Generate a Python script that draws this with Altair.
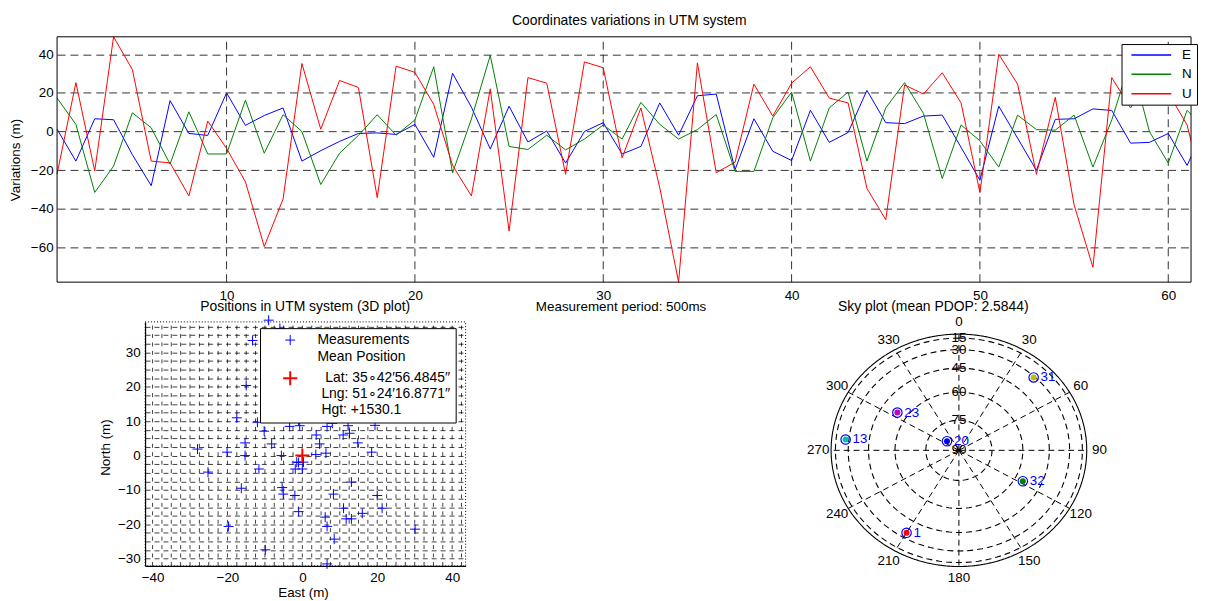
import altair as alt
import pandas as pd

FONT = "Liberation Sans"

# ---------------- top chart: coordinate variations ----------------
IDX = list(range(1, 63))
E = [1.2, -15.3, 6.6, 6.1, -12, -28, 16, -1, -2, 20,
     3.2, 8.3, 12.2, -15.3, -9.9, -5.1, -1, -0.7, -1.5, 3.7,
     -13.3, 30.1, 12.6, -9, 13.1, -5.4, 0.3, -16.3, 0, 4.6,
     -11.6, -7.7, 14.8, -1.9, 18.5, 19.4, -19.7, 6.6, -10.2, -15,
     11, -5.6, -0.5, 21.3, 4.6, 4.1, 8, 8.5, -8.2, -25.2,
     13.1, -3.4, -20.1, 6.3, 6.6, 11.7, 10.9, -6, -5.6, -1,
     -17.5, 3.6]
N = [17.3, 3.7, -31.5, -17.9, 9.7, 1.9, -16.8, 10.2, -11.6, -11.6,
     16.2, -11.2, 8.7, 0, -27.4, -11.2, -2, 8.7, -1.9, 6,
     33.5, -21.4, 6.5, 39.4, -7.7, -9.3, -1.9, -9.5, -3.9, 3.4,
     -3.9, 15.1, 3.7, -3.9, 1.0, 8.8, -20.6, -20.6, 7.1, 20.4,
     -15.3, 12.2, 20.4, -15.3, 12.2, 25.3, 9.4, -24.3, 3.4, -4.8,
     -18.4, 8.5, 1.0, 0.7, 8.5, -18.4, 6.0, 37, 0, -16.3,
     11, 0.3]
U = [-22, 25.3, -20.4, 49, 32, -15.3, -16.2, -33.3, 5.4, -8.7,
     -26, -59.5, -34.9, 35.2, 1.2, 26.4, 22.8, -34.2, 33.8, 30.6,
     14, -17.5, -33.3, 22.1, -51.5, 27.9, 25, -22.1, 36, 33,
     -13.6, 12.2, -29, -77.9, 35.5, -21.3, -15.8, 24.5, 8, 25,
     33.5, 17.3, 14.8, -29.4, -45.6, 24.1, 19.4, 30.4, 14.8, -31.6,
     40, 24.5, -22.1, 17.7, -37.9, -70.2, 27.9, 12.2, 28, 20,
     3.4, -35.7]
SERIES = ["E", "N", "U"]
SERIES_COLORS = ["#0000ff", "#008000", "#ff0000"]
TOP_XTICKS = [10, 20, 30, 40, 50, 60]
TOP_YTICKS = [-60, -40, -20, 0, 20, 40]
TOP_XDOM = [1, 61.21]
TOP_YDOM = [min(E + N + U), max(E + N + U)]

# ---------------- bottom-left: positions ----------------
KINDS = ["Measurements", "Mean Position", "Mean"]
KIND_COLORS = ["#0000ff", "white", "#ff0000"]
KIND_SIZES = [100, 1, 200]
KIND_WIDTHS = [1, 1, 2]
MEAN_EN = [0.0, 0.0]
SC_XDOM = [-42, 43.6]
SC_YDOM = [-32.1, 38.9]
SC_XVALS = [-40 + 2.5 * k for k in range(34)]
SC_YVALS = [-30 + 2.5 * k for k in range(28)]
ZW = "\u200b"
LAT = ZW + "\u00a0\u00a0Lat: 35\u221842\u203256.4845\u2032\u2032"
LNG = ZW + "\u00a0Lng: 51\u221824\u203216.8771\u2032\u2032"
HGT = ZW + "\u00a0Hgt: +1530.1"

# ---------------- bottom-right: sky plot ----------------
PRN = ["31", "23", "13", "20", "32", "1"]
SAT_AZ = [43, 304, 276, 310, 118, 210]
SAT_EL = [31, 54.5, 27, 83, 55.5, 35]
SAT_COLORS = ["#bfbf00", "#bf00bf", "#00bfbf", "#0000ff", "#008000", "#ff0000"]
RING_EL = [0, 15, 30, 45, 60, 75]
ELEV_LABELS = [15, 30, 45, 60, 75, 90]
AZ_LABELS = list(range(0, 360, 30))
SKY_XDOM = [-1.1601, 1.1709]
SKY_YDOM = [-0.9949, 1.1051]

# pixel ranges of each panel inside the single view
TOP_XR, TOP_YR = [48.4, 1190], [274, 27]
SC_XR, SC_YR = [137, 459.7], [559.7, 314]
SKY_XR, SKY_YR = [807, 1107], [559.7, 314]


def sc(domain, rng):
    return alt.Scale(domain=domain, range=rng, nice=False, zero=False)


def hidden_top_axis(offset, title, tx, ty, size=14):
    return alt.Axis(orient="top", offset=offset, labels=False, ticks=False,
                    domain=False, grid=False, title=title, titleX=tx, titleY=ty,
                    titleAlign="center", titleBaseline="middle",
                    titleFontSize=size, titleFontWeight="normal", titleColor="black")


one = pd.DataFrame({"f": [0]})

# ---- top panel
top_df = pd.DataFrame({"i": IDX * 3, "v": E + N + U,
                       "s": ["E"] * 62 + ["N"] * 62 + ["U"] * 62})

top_vgrid = alt.Chart(pd.DataFrame({"t": TOP_XTICKS})).mark_rule(
    color="black", strokeDash=[8, 5], opacity=0.8, strokeWidth=1).encode(
    x=alt.X("t:Q", scale=sc(TOP_XDOM, TOP_XR), axis=None),
    y=alt.YDatum(TOP_YDOM[0], type="quantitative", scale=sc(TOP_YDOM, TOP_YR), axis=None),
    y2=alt.Y2Datum(TOP_YDOM[1]),
)

top_frame = alt.Chart(one).mark_rect(fill="white", fillOpacity=0, stroke="black", strokeWidth=1).encode(
    x=alt.XDatum(TOP_XDOM[0], type="quantitative", scale=sc(TOP_XDOM, TOP_XR),
                 axis=hidden_top_axis(-27, "Coordinates variations in UTM system", 624, -16)),
    x2=alt.X2Datum(TOP_XDOM[1]),
    y=alt.YDatum(TOP_YDOM[0], type="quantitative", scale=sc(TOP_YDOM, TOP_YR), axis=None),
    y2=alt.Y2Datum(TOP_YDOM[1]),
)

grid_common = dict(gridColor="black", gridOpacity=0.8, gridWidth=1,
                   domain=False, ticks=False, labelFontSize=13.5, labelColor="black",
                   labelFlush=False, labelOverlap=False, titleFontSize=13.5,
                   titleFontWeight="normal", titleColor="black",
                   titleAlign="center", titleBaseline="middle")

top_lines = alt.Chart(top_df).mark_line(clip=True, strokeWidth=1).encode(
    x=alt.X("i:Q", scale=sc(TOP_XDOM, TOP_XR),
            axis=alt.Axis(orient="bottom", offset=-286, values=TOP_XTICKS, grid=False,
                          labelPadding=6, title="Measurement period: 500ms",
                          titleX=615.7, titleY=25, **grid_common)),
    y=alt.Y("v:Q", scale=sc(TOP_YDOM, TOP_YR),
            axis=alt.Axis(orient="left", offset=-48.4, values=TOP_YTICKS, grid=True,
                          gridDash=[8, 5], labelPadding=4, title="Variations (m)",
                          titleAngle=270, titleX=-41.4, titleY=150.5, **grid_common)),
    color=alt.Color("s:N", scale=alt.Scale(domain=SERIES, range=SERIES_COLORS),
                    legend=alt.Legend(title=None, orient="none", legendX=1120, legendY=34.3,
                                      symbolType="stroke", symbolSize=1600, symbolStrokeWidth=1.5,
                                      clipHeight=13, labelFontSize=13.5, labelColor="black",
                                      padding=4.5, rowPadding=5.5, fillColor="white",
                                      strokeColor="black", symbolOffset=4.5, labelOffset=9.9)),
)

# ---- scatter panel
sc_df = pd.DataFrame({"e": E + [MEAN_EN[0]], "n": N + [MEAN_EN[1]],
                      "k": ["Measurements"] * len(E) + ["Mean"]})

sc_vgrid = alt.Chart(pd.DataFrame({"t": SC_XVALS})).mark_rule(
    color="black", strokeDash=[4, 4.5], opacity=0.75, strokeWidth=1).encode(
    x=alt.X("t:Q", scale=sc(SC_XDOM, SC_XR), axis=None),
    y=alt.YDatum(SC_YDOM[0], type="quantitative", scale=sc(SC_YDOM, SC_YR), axis=None),
    y2=alt.Y2Datum(SC_YDOM[1]),
)

sc_frame = alt.Chart(one).mark_rect(fill="white", fillOpacity=0, stroke="black",
                                    strokeWidth=1, strokeDash=[1, 2]).encode(
    x=alt.XDatum(SC_XDOM[0], type="quantitative", scale=sc(SC_XDOM, SC_XR),
                 axis=hidden_top_axis(-314, "Positions in UTM system (3D plot)", 297.7, -15)),
    x2=alt.X2Datum(SC_XDOM[1]),
    y=alt.YDatum(SC_YDOM[0], type="quantitative", scale=sc(SC_YDOM, SC_YR), axis=None),
    y2=alt.Y2Datum(SC_YDOM[1]),
)

sc_common = dict(grid_common)
sc_common.update(domain=True, domainColor="black", domainWidth=1.2, gridOpacity=0.75)

plus = "M-1,0L1,0M0,-1L0,1"
label_expr = ("datum.label === 'Mean' ? ['" + LAT + "', '" + LNG + "', '" + HGT +
              "'] : datum.label")

sc_points = alt.Chart(sc_df).mark_point(shape=plus, filled=False, opacity=1).encode(
    x=alt.X("e:Q", scale=sc(SC_XDOM, SC_XR),
            axis=alt.Axis(orient="bottom", offset=-0.3, values=SC_XVALS, grid=False,
                          labelExpr="datum.value % 20 === 0 ? datum.label : ''",
                          labelPadding=5, title="East (m)", titleX=296, titleY=27, **sc_common)),
    y=alt.Y("n:Q", scale=sc(SC_YDOM, SC_YR),
            axis=alt.Axis(orient="left", offset=-137, values=SC_YVALS, grid=True, gridDash=[5, 4],
                          labelExpr="datum.value % 10 === 0 ? datum.label : ''",
                          labelPadding=5, title="North (m)", titleAngle=270,
                          titleX=-40, titleY=440, **sc_common)),
    color=alt.Color("k:N", scale=alt.Scale(domain=KINDS, range=KIND_COLORS),
                    legend=alt.Legend(title=None, orient="none", legendX=252.7, legendY=320.3,
                                      symbolType=plus, labelExpr=label_expr, labelFontSize=14,
                                      labelColor="black", labelLimit=400, padding=5,
                                      rowPadding=3, fillColor="white", strokeColor="black",
                                      symbolOffset=16.9, labelOffset=19.0)),
    size=alt.Size("k:N", scale=alt.Scale(type="ordinal", domain=KINDS, range=KIND_SIZES)),
    strokeWidth=alt.StrokeWidth("k:N", scale=alt.Scale(type="ordinal", domain=KINDS, range=KIND_WIDTHS)),
)

# ---- sky panel
def kx(field, axis=None):
    return alt.X(field, type="quantitative", scale=sc(SKY_XDOM, SKY_XR), axis=axis)


def ky(field):
    return alt.Y(field, type="quantitative", scale=sc(SKY_YDOM, SKY_YR), axis=None)


ring_df = pd.DataFrame({"el": RING_EL, "sty": ["solid"] + ["dash"] * (len(RING_EL) - 1)})
rings = alt.Chart(ring_df).transform_calculate(
    a="sequence(0, 361, 3)"
).transform_flatten(["a"]).transform_calculate(
    rx="cos(datum.el*PI/180)*sin(datum.a*PI/180)",
    ry="cos(datum.el*PI/180)*cos(datum.a*PI/180)",
).mark_line(color="black", strokeWidth=1.1).encode(
    x=kx("rx", hidden_top_axis(-314, "Sky plot (mean PDOP: 2.5844)", 930, -15)),
    y=ky("ry"),
    detail="el:N",
    order="a:Q",
    strokeDash=alt.StrokeDash("sty:N", scale=alt.Scale(domain=["solid", "dash"], range=[[1, 0], [6, 4]]),
                              legend=None),
)

spokes = alt.Chart(pd.DataFrame({"az": AZ_LABELS})).transform_calculate(
    z="0", px="sin(datum.az*PI/180)", py="cos(datum.az*PI/180)"
).mark_rule(color="black", strokeDash=[6, 4], strokeWidth=1).encode(
    x=kx("z"), y=ky("z"), x2="px:Q", y2="py:Q")

elev_lbl = alt.Chart(pd.DataFrame({"el": ELEV_LABELS})).transform_calculate(
    z="0", py="cos(datum.el*PI/180)", t="'' + datum.el"
).mark_text(fontSize=13.5, align="center", baseline="middle", color="black").encode(
    x=kx("z"), y=ky("py"), text="t:N")

az_lbl = alt.Chart(pd.DataFrame({"az": AZ_LABELS})).transform_calculate(
    px="1.1*sin(datum.az*PI/180)", py="1.1*cos(datum.az*PI/180)", t="'' + datum.az"
).mark_text(fontSize=13.5, align="center", baseline="middle", color="black").encode(
    x=kx("px"), y=ky("py"), text="t:N")

sat_df = pd.DataFrame({"prn": PRN, "az": SAT_AZ, "el": SAT_EL})
sat_base = alt.Chart(sat_df).transform_calculate(
    px="cos(datum.el*PI/180)*sin(datum.az*PI/180)",
    py="cos(datum.el*PI/180)*cos(datum.az*PI/180)")

sat_out = sat_base.mark_point(shape="circle", filled=False, color="#0000ff", size=90,
                              strokeWidth=1.2, opacity=1).encode(x=kx("px"), y=ky("py"))
sat_in = sat_base.mark_point(shape="circle", filled=True, size=36, opacity=1).encode(
    x=kx("px"), y=ky("py"),
    color=alt.Color("prn:N", scale=alt.Scale(domain=PRN, range=SAT_COLORS), legend=None))
sat_txt = sat_base.mark_text(align="left", baseline="middle", dx=7, fontSize=13.5,
                             color="#0000ff").encode(x=kx("px"), y=ky("py"), text="prn:N")

chart = alt.layer(
    top_vgrid, top_lines, top_frame, sc_vgrid, sc_points, sc_frame,
    rings, spokes, elev_lbl, az_lbl, sat_out, sat_in, sat_txt,
).resolve_scale(
    x="independent", y="independent", color="independent",
    size="independent", strokeWidth="independent", strokeDash="independent",
).resolve_axis(x="independent", y="independent").properties(
    width=1190, height=560, padding=0
).configure(font=FONT).configure_view(strokeWidth=0)

chart.save("out.html", embed_options={"renderer": "svg", "actions": False})
